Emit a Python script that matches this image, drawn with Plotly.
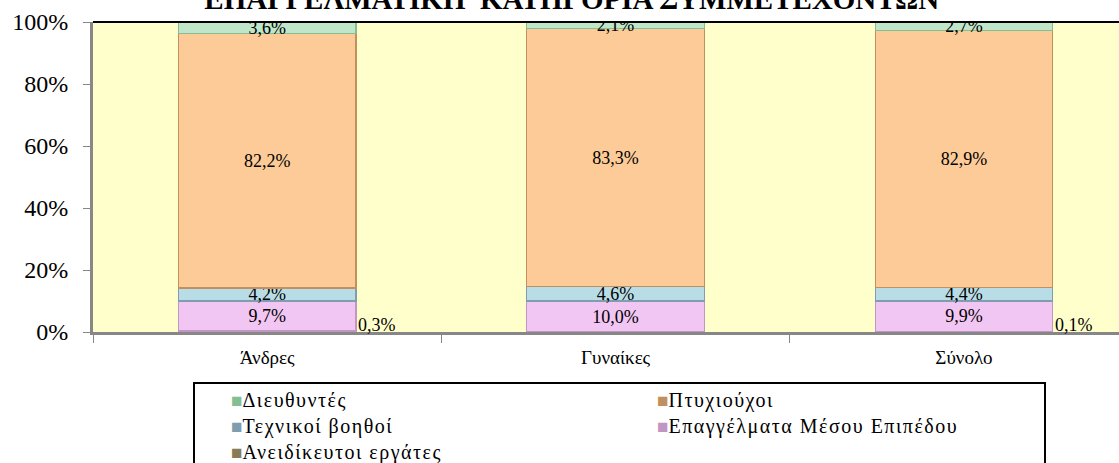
import plotly.graph_objects as go

# ---- data ----
categories = ["Άνδρες", "Γυναίκες", "Σύνολο"]
unskilled = [0.3, 0.0, 0.1]        # Ανειδίκευτοι εργάτες
mid_level = [9.7, 10.0, 9.9]       # Επαγγέλματα Μέσου Επιπέδου
technicians = [4.2, 4.6, 4.4]      # Τεχνικοί βοηθοί
graduates = [82.2, 83.3, 82.9]     # Πτυχιούχοι
managers = [3.6, 2.1, 2.7]         # Διευθυντές
y_tick_values = [0, 20, 40, 60, 80, 100]
y_tick_labels = ["0%", "20%", "40%", "60%", "80%", "100%"]
title_text = "ΕΠΑΓΓΕΛΜΑΤΙΚΗ  ΚΑΤΗΓΟΡΙΑ ΣΥΜΜΕΤΕΧΟΝΤΩΝ"
legend_columns = [
    ["Διευθυντές", "Τεχνικοί βοηθοί", "Ανειδίκευτοι εργάτες"],
    ["Πτυχιούχοι", "Επαγγέλματα Μέσου Επιπέδου"],
]

# stacking order bottom -> top: (name, values, fill, edge/legend colour, labelled inside)
series = [
    ("Ανειδίκευτοι εργάτες", unskilled, "#9C9068", "#877C58", False),
    ("Επαγγέλματα Μέσου Επιπέδου", mid_level, "#F2C6F2", "#C296C2", True),
    ("Τεχνικοί βοηθοί", technicians, "#B9DDE6", "#7F9DAE", True),
    ("Πτυχιούχοι", graduates, "#FDCB98", "#C0905E", True),
    ("Διευθυντές", managers, "#BFE6C8", "#86BE94", True),
]

W, H = 1119, 463
ML, MR, MT, MB = 93, 0, 22, 131
PW, PH = W - ML - MR, H - MT - MB
BAR_W = 0.51
FONT = "Liberation Serif, Times New Roman, serif"


def px_x(px):
    return (px - ML) / PW


def px_y(py):
    return (H - MB - py) / PH


fig = go.Figure()
for name, vals, fill, edge, show_text in series:
    fig.add_trace(go.Bar(
        name=name,
        x=categories,
        y=vals,
        width=BAR_W,
        marker=dict(color=fill, line=dict(color=edge, width=1.2)),
        texttemplate="%{y:.1f}%" if show_text else None,
        textposition="inside" if show_text else "none",
        insidetextanchor="middle",
        textangle=0,
        constraintext="none",
        textfont=dict(family=FONT, size=18, color="black"),
        hoverinfo="name+y",
        showlegend=False,
    ))

annotations = []
# labels for the tiny bottom segment, placed to the right of each bar
for i, v in enumerate(unskilled):
    if v > 0:
        annotations.append(dict(
            x=i + BAR_W / 2, y=0, xref="x", yref="y",
            xanchor="left", yanchor="bottom",
            text=f"{v:.1f}%".replace(".", ","),
            showarrow=False,
            font=dict(family=FONT, size=18, color="black"),
            yshift=-5,
        ))

# legend: two columns inside a framed box
legend_colour = {name: edge for name, _, _, edge, _ in series}
col_x = [229, 655]
for col, names in zip(col_x, legend_columns):
    lines = [f'<span style="color:{legend_colour[n]};font-size:19px">■</span>'
             f'<span style="letter-spacing:1.5px">{n}</span>' for n in names]
    annotations.append(dict(
        x=px_x(col), y=px_y(387), xref="paper", yref="paper",
        xanchor="left", yanchor="top", align="left", showarrow=False,
        text="<br>".join(lines),
        font=dict(family=FONT, size=20, color="black"),
    ))

shapes = [
    dict(type="line", xref="paper", yref="paper", x0=0, x1=1, y0=1, y1=1,
         line=dict(color="black", width=2)),
    dict(type="rect", xref="paper", yref="paper",
         x0=px_x(194), x1=px_x(1045), y0=px_y(383), y1=px_y(480),
         line=dict(color="black", width=2), fillcolor="white", layer="below"),
]

fig.update_layout(
    width=W, height=H,
    barmode="stack",
    separators=",.",
    paper_bgcolor="white",
    plot_bgcolor="#FFFFCC",
    margin=dict(l=ML, r=MR, t=MT, b=MB, autoexpand=False),
    font=dict(family=FONT, color="black"),
    showlegend=False,
    title=dict(
        text=f"<b>{title_text}</b>",
        font=dict(family=FONT, size=29, color="black"),
        x=0.511, xanchor="center", xref="container",
        y=1 - 9 / H, yanchor="bottom", yref="container",
    ),
    xaxis=dict(
        range=[-0.5, 2.445],
        showline=True, linecolor="#878787", linewidth=3,
        ticks="outside", tickson="boundaries", ticklen=8, tickcolor="#878787", tickwidth=1,
        ticklabelstandoff=6,
        tickfont=dict(family=FONT, size=19, color="black"),
        showgrid=False, zeroline=False, automargin=False,
    ),
    yaxis=dict(
        range=[0, 100],
        tickvals=y_tick_values, ticktext=y_tick_labels,
        showline=True, linecolor="#878787", linewidth=3,
        ticks="outside", ticklen=7, tickcolor="#878787", tickwidth=1,
        ticklabelstandoff=10,
        tickfont=dict(family=FONT, size=24, color="black"),
        showgrid=False, zeroline=False, automargin=False,
    ),
    shapes=shapes,
    annotations=annotations,
)

fig.write_html("out.html", config={"displayModeBar": False},
               post_script="document.body.style.margin='0';")
